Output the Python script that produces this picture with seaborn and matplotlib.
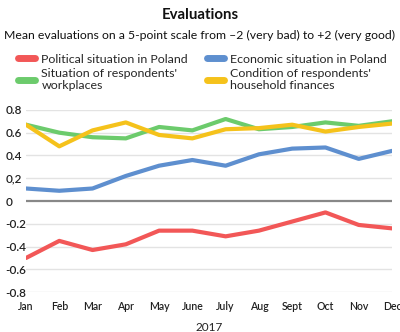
import matplotlib
matplotlib.use("Agg")
import matplotlib.pyplot as plt
import seaborn as sns
import pandas as pd
from matplotlib.lines import Line2D

months = ["Jan", "Feb", "Mar", "Apr", "May", "June", "July", "Aug", "Sept", "Oct", "Nov", "Dec"]
political = [-0.50, -0.35, -0.43, -0.38, -0.26, -0.26, -0.31, -0.26, -0.18, -0.10, -0.21, -0.24]
economic = [0.11, 0.09, 0.11, 0.22, 0.31, 0.36, 0.31, 0.41, 0.46, 0.47, 0.37, 0.44]
workplaces = [0.67, 0.60, 0.56, 0.55, 0.65, 0.62, 0.72, 0.63, 0.65, 0.69, 0.66, 0.70]
finances = [0.67, 0.48, 0.62, 0.69, 0.58, 0.55, 0.63, 0.64, 0.67, 0.61, 0.65, 0.68]
series_names = ["Political situation in Poland", "Economic situation in Poland",
                "Situation of respondents'\nworkplaces", "Condition of respondents'\nhousehold finances"]
y_ticks = [0.8, 0.6, 0.4, 0.2, 0, -0.2, -0.4, -0.6, -0.8]
y_tick_labels = ["0.8", "0.6", "0.4", "0,2", "0", "-0.2", "-0.4", "-0.6", "-0.8"]
colors = ["#F25757", "#5E8FCF", "#6CCB6C", "#F5C21B"]

rows = []
for name, vals in zip(series_names, [political, economic, workplaces, finances]):
    for i, v in enumerate(vals):
        rows.append({"month": i, "value": v, "series": name})
df = pd.DataFrame(rows)

sns.set_theme(style="white")
plt.rcParams["font.family"] = ["Lato", "DejaVu Sans"]

fig = plt.figure(figsize=(4.0, 3.32), dpi=100)
ax = fig.add_axes([0.065, 0.12, 0.915, 0.549])

for y in y_ticks:
    if y == 0:
        continue
    ax.axhline(y, color="#e3e3e3", lw=1.0, zorder=0)
ax.axhline(0, color="#888888", lw=1.6, zorder=1)

sns.lineplot(data=df, x="month", y="value", hue="series", palette=colors,
             hue_order=series_names, lw=3.0, ax=ax, legend=False,
             solid_capstyle="round", solid_joinstyle="round", zorder=3)

ax.set_xlim(0, 11)
ax.set_ylim(-0.8, 0.8)
ax.set_yticks(y_ticks)
ax.set_yticklabels(y_tick_labels, fontsize=8.5, fontweight="semibold", color="#222222")
ax.set_xticks(range(12))
ax.set_xticklabels(months, fontsize=7.6, fontweight="semibold", color="#222222")
ax.tick_params(axis="y", length=0, pad=15)
for lbl in ax.get_yticklabels():
    lbl.set_horizontalalignment("left")
ax.tick_params(axis="x", length=0, pad=6.5)
ax.set_xlabel("2017", fontsize=8.5, color="#222222", labelpad=7)
ax.set_ylabel("")
for s in ax.spines.values():
    s.set_visible(False)

fig.text(0.5, 0.955, "Evaluations", ha="center", va="center", fontsize=10.8, fontweight="bold", color="#111111")
fig.text(0.5, 0.893, "Mean evaluations on a 5-point scale from \u20132 (very bad) to +2 (very good)",
         ha="center", va="center", fontsize=8.8, color="#111111")

handles = [Line2D([0], [0], color=c, lw=5, solid_capstyle="round") for c in colors]
order = [0, 2, 1, 3]
leg = fig.legend([handles[i] for i in order], [series_names[i] for i in order], ncol=2,
                 loc="upper left", bbox_to_anchor=(0.045, 0.838), borderaxespad=0, borderpad=0,
                 frameon=False, fontsize=8.9, handlelength=1.4, handletextpad=0.5,
                 columnspacing=1.5, labelspacing=0.22)

fig.savefig("out.png", dpi=100)
